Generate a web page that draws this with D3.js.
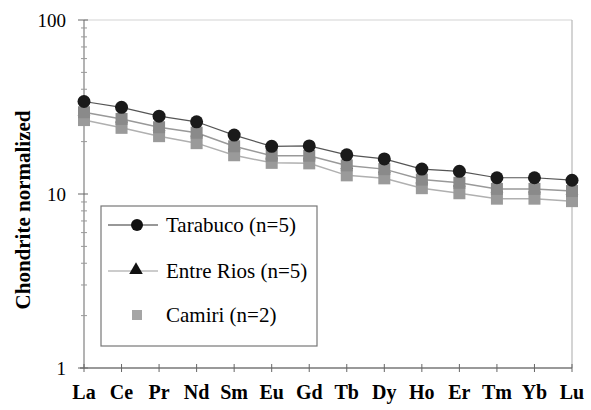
<!DOCTYPE html>
<html>
<head>
    <script src="https://cdnjs.cloudflare.com/ajax/libs/d3/7.8.5/d3.min.js"></script>
    <style>
        html, body {
            padding: 0;
            margin: 0;
            background: #fff;
        }
        svg text {
            font-family: "Liberation Serif", "Times New Roman", Tinos, "DejaVu Serif", serif;
        }
    </style>
</head>
<body>
<script>
    // REE elements along the x axis
    var elements = ["La", "Ce", "Pr", "Nd", "Sm", "Eu", "Gd", "Tb", "Dy", "Ho", "Er", "Tm", "Yb", "Lu"];

    // chondrite normalized values
    var tarabuco = [34, 31.5, 28, 26, 21.8, 18.8, 18.9, 16.8, 15.9, 13.9, 13.5, 12.4, 12.4, 12.0];
    var entreRios = [29.5, 27, 24.2, 22.5, 18.8, 16.6, 16.6, 14.6, 13.9, 12.1, 11.6, 10.7, 10.7, 10.4];
    var camiri = [26.6, 24, 21.5, 19.6, 16.7, 15.1, 15.0, 12.8, 12.3, 10.8, 10.1, 9.4, 9.4, 9.1];

    var yTicks = [1, 10, 100];
    var legendLabels = ["Tarabuco (n=5)", "Entre Rios (n=5)", "Camiri (n=2)"];

    var width = 591, height = 410;
    var plotLeft = 84, plotRight = 572, plotTop = 20, plotBottom = 368;

    var svg = d3.select("body").append("svg")
        .attr("width", width)
        .attr("height", height);

    var x = d3.scalePoint().domain(elements).range([plotLeft, plotRight]);
    var y = d3.scaleLog().domain([1, 100]).range([plotBottom, plotTop]);

    // frame, top and right
    svg.append("line").attr("x1", plotLeft).attr("x2", plotRight).attr("y1", plotTop).attr("y2", plotTop)
        .style("stroke", "#d4d4d4").style("stroke-width", 1.2);
    svg.append("line").attr("x1", plotRight).attr("x2", plotRight).attr("y1", plotTop).attr("y2", plotBottom)
        .style("stroke", "#b8b8b8").style("stroke-width", 1.2);

    // y axis, with minor ticks crossing the line
    var minor = [];
    [1, 10].forEach(function (d) {
        for (var k = 2; k < 10; k++) minor.push(d * k);
    });
    var yAxis = svg.append("g");
    yAxis.append("line").attr("x1", plotLeft).attr("x2", plotLeft).attr("y1", plotTop).attr("y2", plotBottom)
        .style("stroke", "#8a8a8a").style("stroke-width", 1.3);
    yAxis.selectAll(".minor").data(minor).enter().append("line")
        .attr("x1", plotLeft - 3).attr("x2", plotLeft + 3)
        .attr("y1", function (d) { return y(d); })
        .attr("y2", function (d) { return y(d); })
        .style("stroke", "#999");
    yAxis.selectAll(".major").data(yTicks).enter().append("line")
        .attr("x1", plotLeft - 6).attr("x2", plotLeft + 4)
        .attr("y1", function (d) { return y(d); })
        .attr("y2", function (d) { return y(d); })
        .style("stroke", "#666");
    yAxis.selectAll("text").data(yTicks).enter().append("text")
        .attr("x", plotLeft - 18)
        .attr("y", function (d) { return y(d); })
        .attr("dy", "0.35em")
        .attr("text-anchor", "end")
        .style("font-size", "19px")
        .text(function (d) { return d; });

    // x axis
    var xAxis = svg.append("g");
    xAxis.append("line").attr("x1", plotLeft - 4).attr("x2", plotRight).attr("y1", plotBottom).attr("y2", plotBottom)
        .style("stroke", "#777").style("stroke-width", 1.3);
    xAxis.selectAll(".tick").data(elements).enter().append("line")
        .attr("x1", function (d) { return x(d); })
        .attr("x2", function (d) { return x(d); })
        .attr("y1", plotBottom - 4).attr("y2", plotBottom + 4)
        .style("stroke", "#666");
    xAxis.selectAll("text").data(elements).enter().append("text")
        .attr("x", function (d) { return x(d); })
        .attr("y", 399)
        .attr("text-anchor", "middle")
        .style("font-weight", "bold")
        .style("font-size", "20px")
        .text(function (d) { return d; });

    // y title
    svg.append("text")
        .attr("transform", "translate(30,210) rotate(-90)")
        .attr("text-anchor", "middle")
        .style("font-weight", "bold")
        .style("font-size", "21px")
        .text("Chondrite normalized");

    var line = d3.line()
        .x(function (d, i) { return x(elements[i]); })
        .y(function (d) { return y(d); });

    // lines
    svg.append("path").datum(camiri).attr("d", line)
        .style("fill", "none").style("stroke", "#b0b0b0").style("stroke-width", 1.5);
    svg.append("path").datum(entreRios).attr("d", line)
        .style("fill", "none").style("stroke", "#999").style("stroke-width", 1.5);
    svg.append("path").datum(tarabuco).attr("d", line)
        .style("fill", "none").style("stroke", "#555").style("stroke-width", 1.2);

    // markers
    svg.selectAll(".tri").data(entreRios).enter().append("path")
        .attr("transform", function (d, i) { return "translate(" + x(elements[i]) + "," + y(d) + ")"; })
        .attr("d", d3.symbol().type(d3.symbolTriangle).size(70))
        .style("fill", "#222");
    svg.selectAll(".sq").data(camiri).enter().append("rect")
        .attr("x", function (d, i) { return x(elements[i]) - 6; })
        .attr("y", function (d) { return y(d) - 6; })
        .attr("width", 12).attr("height", 12)
        .style("fill", "#9a9a9a");
    svg.selectAll(".sq2").data(entreRios).enter().append("rect")
        .attr("x", function (d, i) { return x(elements[i]) - 6; })
        .attr("y", function (d) { return y(d) - 6; })
        .attr("width", 12).attr("height", 12)
        .style("fill", "#8a8a8a");
    svg.selectAll(".dot").data(tarabuco).enter().append("circle")
        .attr("cx", function (d, i) { return x(elements[i]); })
        .attr("cy", function (d) { return y(d); })
        .attr("r", 6.5)
        .style("fill", "#1a1a1a");

    // legend
    var lg = svg.append("g");
    lg.append("rect").attr("x", 101).attr("y", 206).attr("width", 216).attr("height", 140)
        .style("fill", "#fff").style("stroke", "#777").style("stroke-width", 1.2);
    var rowY = [225, 271, 315];
    lg.append("line").attr("x1", 108).attr("x2", 158).attr("y1", rowY[0]).attr("y2", rowY[0])
        .style("stroke", "#333").style("stroke-width", 1.2);
    lg.append("circle").attr("cx", 137).attr("cy", rowY[0]).attr("r", 6).style("fill", "#111");
    lg.append("line").attr("x1", 108).attr("x2", 158).attr("y1", rowY[1]).attr("y2", rowY[1])
        .style("stroke", "#999").style("stroke-width", 1.2);
    lg.append("path").attr("transform", "translate(136," + (rowY[1] - 1) + ")")
        .attr("d", d3.symbol().type(d3.symbolTriangle).size(80)).style("fill", "#111");
    lg.append("rect").attr("x", 132).attr("y", rowY[2] - 5).attr("width", 10).attr("height", 10)
        .style("fill", "#a5a5a5");
    lg.selectAll("text").data(legendLabels).enter().append("text")
        .attr("x", 166)
        .attr("y", function (d, i) { return rowY[i]; })
        .attr("dy", "0.35em")
        .style("font-size", "21px")
        .text(function (d) { return d; });
</script>
</body>
</html>
